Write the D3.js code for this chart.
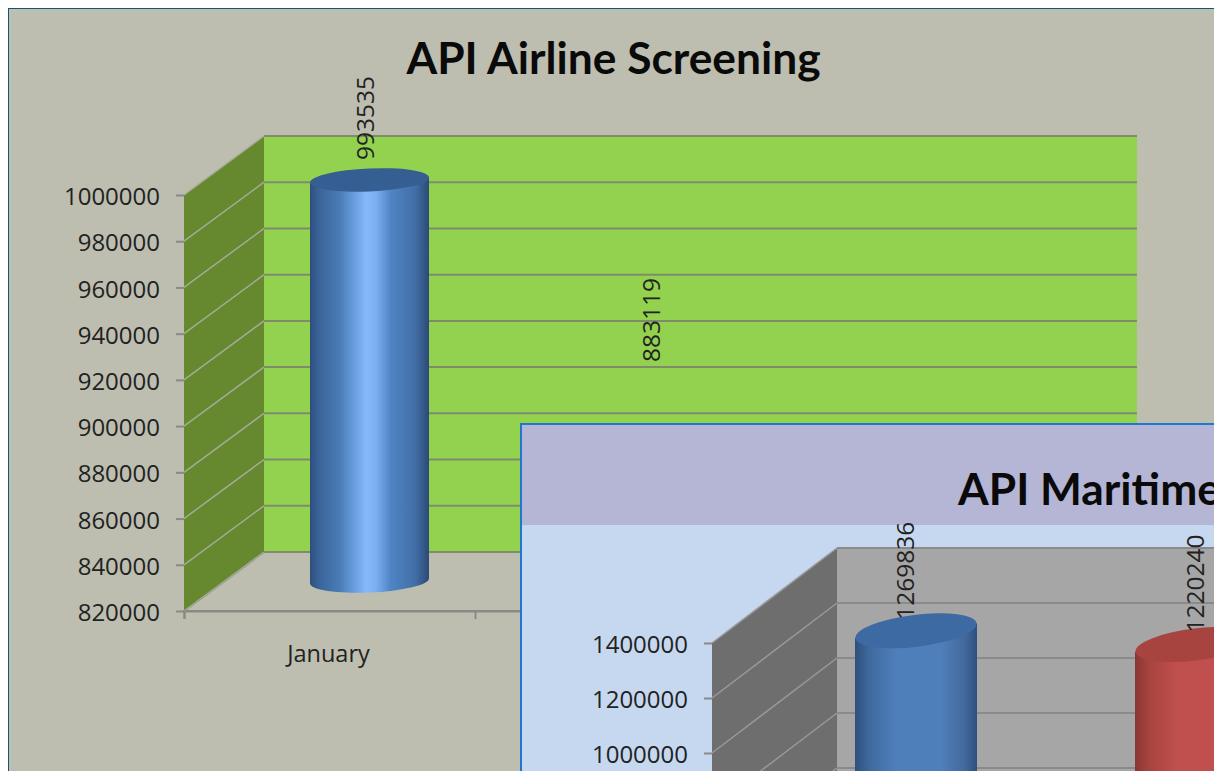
<!DOCTYPE html>
<html>
<head>
<meta charset="utf-8">
<script src="https://cdn.jsdelivr.net/npm/d3@7"></script>
<style>
  html, body { margin: 0; padding: 0; background: #fff; overflow: hidden; }
  svg { display: block; }
  text { font-family: "Open Sans", sans-serif; fill: #222; }
  .title { font-family: Lato, sans-serif; font-weight: 700; fill: #0a0a0a; }
</style>
</head>
<body>
<svg id="chart" width="1214" height="771"></svg>
<script>
const months = ['January', 'February', 'March'];
const airlineValues = [993535, 883119];
const airlineTicks = [820000, 840000, 860000, 880000, 900000, 920000, 940000, 960000, 980000, 1000000];
const maritimeValues = [1269836, 1220240];
const maritimeTicks = [0, 200000, 400000, 600000, 800000, 1000000, 1200000, 1400000];

const svg = d3.select('#chart');
const defs = svg.append('defs');

function addGradient(id, stops) {
  const grad = defs.append('linearGradient').attr('id', id);
  stops.forEach(([o, c]) => grad.append('stop').attr('offset', o).attr('stop-color', c));
}

addGradient('shinyBlue', [[0, '#2f4f7c'], [0.08, '#3a659a'], [0.25, '#4a7cb6'], [0.4, '#6fa5e6'],
  [0.47, '#86b9fb'], [0.55, '#7db0f2'], [0.68, '#4f84c4'], [0.88, '#426fa8'], [1, '#2c4a76']]);
addGradient('flatBlue', [[0, '#2f4f7c'], [0.12, '#3f6a9f'], [0.35, '#4f7fbb'], [0.7, '#4f7fbb'],
  [0.9, '#42699c'], [1, '#2f4f7c']]);
addGradient('flatRed', [[0, '#8a3533'], [0.12, '#a8443f'], [0.35, '#c0504d'], [1, '#c0504d']]);

function drawChart(g, c) {
  const y = d3.scaleLinear().domain(c.domain).range([c.bottom, c.top]);
  const band = d3.scaleBand().domain(months).range([c.left, c.right]);
  const edges = d3.scaleLinear().domain([0, months.length]).range([c.left, c.right]);

  // floor, back wall and side wall
  g.append('polygon').attr('fill', c.floor).attr('stroke', c.axis).attr('stroke-width', 2)
    .attr('points', [[c.left, c.bottom], [c.left + c.dx, c.bottom - c.dy],
      [c.right + c.dx, c.bottom - c.dy], [c.right, c.bottom]].join(' '));
  g.append('rect').attr('fill', c.wall)
    .attr('x', c.left + c.dx).attr('y', c.top - c.dy)
    .attr('width', c.right - c.left).attr('height', c.bottom - c.top);
  g.append('polygon').attr('fill', c.side)
    .attr('points', [[c.left, c.bottom], [c.left + c.dx, c.bottom - c.dy],
      [c.left + c.dx, c.top - c.dy], [c.left, c.top]].join(' '));

  // gridlines run along the side wall then across the back
  const grid = g.append('g').selectAll('g').data(c.ticks).join('g');
  grid.append('line').attr('stroke', c.sideGrid).attr('stroke-width', 1.5)
    .attr('x1', c.left).attr('y1', d => y(d))
    .attr('x2', c.left + c.dx).attr('y2', d => y(d) - c.dy);
  grid.append('line').attr('stroke', c.grid).attr('stroke-width', 2)
    .attr('x1', c.left + c.dx).attr('y1', d => y(d) - c.dy)
    .attr('x2', c.right + c.dx).attr('y2', d => y(d) - c.dy);

  const yAxis = g.append('g').attr('transform', `translate(${c.left},0)`)
    .call(d3.axisLeft(y).tickValues(c.ticks).tickFormat(d3.format('d')).tickSizeOuter(0).tickSize(8).tickPadding(16));
  yAxis.select('.domain').remove();
  yAxis.selectAll('line').attr('stroke', c.axis).attr('stroke-width', 2);
  yAxis.selectAll('text').attr('font-size', c.tickFont).attr('font-family', '"Open Sans", sans-serif')
    .attr('fill', '#222').attr('dy', '0.4em');

  const xAxis = g.append('g').attr('transform', `translate(0,${c.bottom})`)
    .call(d3.axisBottom(edges).ticks(months.length).tickFormat('').tickSizeOuter(0).tickSize(8));
  xAxis.select('.domain').attr('stroke', c.axis).attr('stroke-width', 2);
  xAxis.selectAll('line').attr('stroke', c.axis).attr('stroke-width', 2);

  g.append('g').selectAll('text').data(months).join('text')
    .attr('x', d => band(d) + band.bandwidth() / 2 - 1)
    .attr('y', c.bottom + 51)
    .attr('text-anchor', 'middle')
    .attr('font-size', c.catFont)
    .text(d => d);

  // cylinders
  const rx = c.barWidth / 2;
  const lift = rx * Math.tan(c.tilt * Math.PI / 180);
  const bars = g.append('g').selectAll('g').data(c.values).join('g')
    .attr('transform', (d, i) => `translate(${band(months[i]) + band.bandwidth() / 2 + c.barShift},0)`);
  bars.append('path')
    .attr('fill', (d, i) => `url(#${c.fills[i]})`)
    .attr('d', d => {
      const top = y(d) - c.barDepth;
      const base = c.bottom - c.barDepth;
      return `M${-rx},${top + lift}L${-rx},${base + lift}` +
        `A${rx},${c.barRy} ${-c.tilt} 0 0 ${rx},${base - lift}L${rx},${top - lift}Z`;
    });
  bars.append('ellipse')
    .attr('fill', (d, i) => c.caps[i])
    .attr('rx', rx).attr('ry', c.barRy)
    .attr('transform', d => `translate(0,${y(d) - c.barDepth}) rotate(${-c.tilt})`);

  // value labels sit on top of everything in the plot
  g.append('g').selectAll('text').data(c.values).join('text')
    .attr('font-size', c.labelFont)
    .attr('transform', (d, i) => {
      const x = band(months[i]) + band.bandwidth() / 2 + c.barShift + c.labelNudge[i][0];
      return `translate(${x},${y(d) - c.barDepth + c.labelNudge[i][1]}) rotate(-90)`;
    })
    .attr('dy', '0.36em')
    .text(d => d);
}

// outer frame of the airline chart
svg.append('rect').attr('x', 8.5).attr('y', 8.5).attr('width', 1300).attr('height', 900)
  .attr('fill', '#bdbeb0').attr('stroke', '#2f4a63').attr('stroke-width', 1);
svg.append('rect').attr('x', 10.5).attr('y', 10.5).attr('width', 1300).attr('height', 900)
  .attr('fill', 'none').attr('stroke', '#b4c2bc').attr('stroke-width', 3);

svg.append('text').attr('class', 'title').attr('x', 613.5).attr('y', 74)
  .attr('text-anchor', 'middle').attr('font-size', 44.3).text('API Airline Screening');

drawChart(svg.append('g'), {
  values: airlineValues, ticks: airlineTicks, domain: [820000, 1000000],
  left: 184, right: 1057, top: 195, bottom: 611, dx: 80, dy: 59,
  barWidth: 119, barRy: 11.5, barDepth: 30, barShift: 40, tilt: 2.5,
  labelNudge: [[-4, -20], [-9, -73]],
  fills: ['shinyBlue', 'flatRed'], caps: ['#355f92', '#a8443f'],
  floor: '#bdbeb0', wall: '#92d24f', side: '#66892f',
  grid: '#7f8c6c', sideGrid: '#a3ab96', axis: '#8a8a84',
  tickFont: 24, catFont: 23.5, labelFont: 24.5
});

// maritime chart laid over the lower right corner
svg.append('rect').attr('x', 521).attr('y', 424).attr('width', 800).attr('height', 500)
  .attr('fill', '#c6d8f0').attr('stroke', '#1f78d0').attr('stroke-width', 2);
svg.append('rect').attr('x', 522).attr('y', 425).attr('width', 800).attr('height', 100)
  .attr('fill', '#b5b5d6');
svg.append('text').attr('class', 'title').attr('x', 958).attr('y', 505)
  .attr('font-size', 44.3).text('API Maritime Screening');

drawChart(svg.append('g'), {
  values: maritimeValues, ticks: maritimeTicks, domain: [0, 1400000],
  left: 712, right: 1552, top: 643, bottom: 1028, dx: 125, dy: 95,
  barWidth: 122, barRy: 16, barDepth: 48, barShift: 64, tilt: 7,
  labelNudge: [[-11, -11], [-1, -12]],
  fills: ['flatBlue', 'flatRed'], caps: ['#3d6aa3', '#a8443f'],
  floor: '#c6d8f0', wall: '#a6a6a6', side: '#6e6e6e',
  grid: '#8a8a8a', sideGrid: '#989898', axis: '#8a8a8a',
  tickFont: 24, catFont: 23.5, labelFont: 24.5
});
</script>
</body>
</html>
